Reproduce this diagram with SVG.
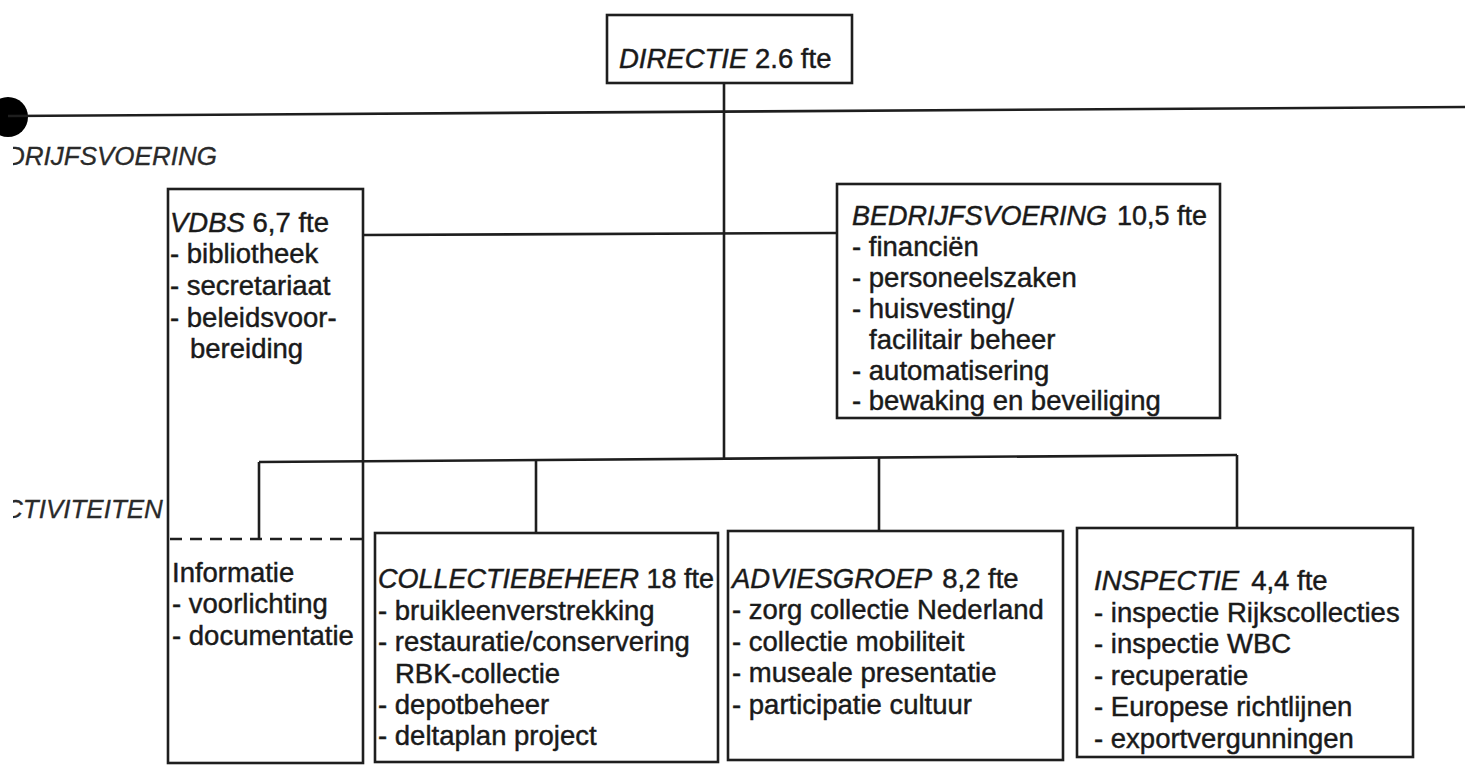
<svg xmlns="http://www.w3.org/2000/svg" width="1465" height="776" viewBox="0 0 1465 776">
<defs>
<clipPath id="edge"><rect x="13" y="0" width="1452" height="776"/></clipPath>
</defs>
<style>
.box{fill:none;stroke:#1e1e1e;stroke-width:2.6}
.ln{fill:none;stroke:#1e1e1e;stroke-width:2.6}
.dash{fill:none;stroke:#1e1e1e;stroke-width:2.4;stroke-dasharray:12 8}
text{font-family:"Liberation Sans",Arial,sans-serif;font-size:27.5px;fill:#1a1a1a;stroke:#1a1a1a;stroke-width:0.45}
.it{font-style:italic}
.lbl{font-style:italic;font-size:26px;fill:#2a2a2a;stroke:#2a2a2a;stroke-width:0.3}
</style>
<rect width="1465" height="776" fill="#ffffff"/>
<g id="connectors">
<circle cx="8" cy="117" r="20" fill="#000"/>
<line class="ln" x1="8" y1="116" x2="1465" y2="107"/>
<line class="ln" x1="724" y1="83" x2="724" y2="459"/>
<line class="ln" x1="363" y1="235" x2="837" y2="233"/>
<line class="ln" x1="259" y1="462" x2="1237" y2="455"/>
<line class="ln" x1="259" y1="462" x2="259" y2="539"/>
<line class="ln" x1="536" y1="460" x2="536" y2="533"/>
<line class="ln" x1="879" y1="457" x2="879" y2="531"/>
<line class="ln" x1="1237" y1="455" x2="1237" y2="528"/>
</g>
<g id="labels" clip-path="url(#edge)">
<text class="lbl" x="6" y="165">DRIJFSVOERING</text>
<text class="lbl" x="4" y="518">CTIVITEITEN</text>
</g>
<g id="directie">
<rect class="box" x="607" y="15" width="245" height="68"/>
<text x="619" y="68"><tspan class="it">DIRECTIE</tspan> 2.6 fte</text>
</g>
<g id="vdbs">
<rect class="box" x="168" y="189" width="195" height="574"/>
<line class="dash" x1="170" y1="539" x2="363" y2="539"/>
<text x="170" y="232"><tspan class="it">VDBS</tspan> 6,7 fte</text>
<text x="170" y="263">- bibliotheek</text>
<text x="170" y="295">- secretariaat</text>
<text x="170" y="327">- beleidsvoor-</text>
<text x="190" y="358">bereiding</text>
<text x="172" y="582">Informatie</text>
<text x="172" y="613">-  voorlichting</text>
<text x="172" y="645">- documentatie</text>
</g>
<g id="bedrijfsvoering">
<rect class="box" x="837" y="184" width="383" height="234"/>
<text x="852" y="225" style="font-size:27px"><tspan class="it">BEDRIJFSVOERING</tspan><tspan dx="10">10,5 fte</tspan></text>
<text x="852" y="256">- financiën</text>
<text x="852" y="287">- personeelszaken</text>
<text x="852" y="318">- huisvesting/</text>
<text x="869" y="349">facilitair beheer</text>
<text x="852" y="380">- automatisering</text>
<text x="852" y="410">- bewaking en beveiliging</text>
</g>
<g id="collectiebeheer">
<rect class="box" x="375" y="533" width="343" height="229"/>
<text x="378" y="588" style="font-size:27px"><tspan class="it">COLLECTIEBEHEER</tspan> 18 fte</text>
<text x="378" y="620">- bruikleenverstrekking</text>
<text x="378" y="651">- restauratie/conservering</text>
<text x="395" y="683">RBK-collectie</text>
<text x="378" y="714">- depotbeheer</text>
<text x="378" y="745">- deltaplan project</text>
</g>
<g id="adviesgroep">
<rect class="box" x="728" y="531" width="335" height="229"/>
<text x="732" y="588"><tspan class="it">ADVIESGROEP</tspan><tspan dx="10">8,2 fte</tspan></text>
<text x="732" y="619">- zorg collectie Nederland</text>
<text x="732" y="651">- collectie mobiliteit</text>
<text x="732" y="682">- museale presentatie</text>
<text x="732" y="714">- participatie cultuur</text>
</g>
<g id="inspectie">
<rect class="box" x="1077" y="528" width="336" height="229"/>
<text x="1094" y="590"><tspan class="it">INSPECTIE</tspan><tspan dx="12">4,4 fte</tspan></text>
<text x="1094" y="622">- inspectie Rijkscollecties</text>
<text x="1094" y="653">- inspectie WBC</text>
<text x="1094" y="685">- recuperatie</text>
<text x="1094" y="716">- Europese richtlijnen</text>
<text x="1094" y="748">- exportvergunningen</text>
</g>
</svg>
